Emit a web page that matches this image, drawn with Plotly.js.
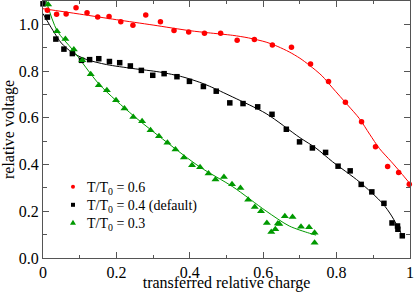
<!DOCTYPE html>
<html>
<head>
<meta charset="utf-8">
<script src="https://cdn.plot.ly/plotly-3.0.1.min.js"></script>
<style>html,body{margin:0;padding:0;background:#fff}#chart{width:415px;height:292px}</style>
</head>
<body>
<div id="chart"></div>
<script>
// Measured points
const redX = [0.012,0.037,0.063,0.090,0.120,0.149,0.180,0.212,0.245,0.280,0.320,0.357,0.397,0.440,0.484,0.529,0.576,0.625,0.677,0.729,0.778,0.824,0.868,0.906,0.939,0.969,0.998];
const redY = [1.060,1.043,1.044,1.071,1.050,1.031,1.034,1.011,0.996,1.040,1.011,0.974,0.967,0.962,0.962,0.932,0.935,0.912,0.902,0.830,0.755,0.667,0.583,0.476,0.392,0.366,0.316];

const blackX = [0.000,0.012,0.035,0.057,0.080,0.105,0.127,0.152,0.181,0.209,0.238,0.268,0.299,0.330,0.365,0.399,0.437,0.472,0.509,0.545,0.585,0.624,0.663,0.699,0.734,0.770,0.804,0.837,0.867,0.896,0.929,0.951,0.966,0.967,0.979];
const blackY = [1.088,1.031,0.937,0.894,0.875,0.846,0.849,0.853,0.841,0.836,0.822,0.803,0.782,0.789,0.776,0.756,0.734,0.714,0.664,0.661,0.647,0.615,0.551,0.497,0.471,0.452,0.393,0.373,0.315,0.283,0.234,0.150,0.137,0.123,0.095];

const greenX = [0.014,0.038,0.061,0.084,0.107,0.130,0.152,0.174,0.199,0.222,0.246,0.270,0.293,0.316,0.339,0.361,0.384,0.406,0.428,0.451,0.470,0.493,0.515,0.538,0.559,0.577,0.594,0.610,0.622,0.633,0.640,0.644,0.659,0.680,0.703,0.725,0.740,0.740];
const greenY = [1.085,0.971,0.937,0.892,0.846,0.786,0.739,0.718,0.675,0.640,0.604,0.585,0.547,0.521,0.493,0.464,0.430,0.397,0.388,0.362,0.336,0.347,0.316,0.300,0.249,0.218,0.200,0.150,0.111,0.123,0.148,0.145,0.179,0.175,0.134,0.132,0.108,0.065];

// Fitted curves
const redFitX = [0.000,0.100,0.200,0.300,0.400,0.450,0.517,0.560,0.608,0.640,0.671,0.700,0.726,0.760,0.789,0.830,0.862,0.890,0.917,0.948,0.975,1.000];
const redFitY = [1.067,1.044,1.020,0.997,0.973,0.964,0.953,0.942,0.924,0.905,0.882,0.855,0.825,0.780,0.728,0.655,0.597,0.530,0.468,0.414,0.365,0.318];

const blackFitX = [0.000,0.027,0.050,0.080,0.118,0.173,0.245,0.318,0.381,0.427,0.454,0.517,0.608,0.700,0.744,0.789,0.862,0.925,0.950,0.971,0.980];
const blackFitY = [1.046,0.974,0.920,0.879,0.850,0.828,0.811,0.796,0.775,0.752,0.735,0.689,0.618,0.515,0.470,0.412,0.326,0.234,0.180,0.120,0.091];

const greenFitX = [0.005,0.038,0.082,0.154,0.245,0.336,0.427,0.517,0.608,0.671,0.726,0.744];
const greenFitY = [1.120,0.974,0.889,0.742,0.611,0.497,0.390,0.305,0.201,0.137,0.106,0.098];

const seriesNames = ["T/T<sub>0</sub> = 0.6","T/T<sub>0</sub> = 0.4 (default)","T/T<sub>0</sub> = 0.3"];
const xTickVals = [0,0.2,0.4,0.6,0.8,1];
const xTickText = ["0","0.2","0.4","0.6","0.8","1"];
const yTickVals = [0,0.2,0.4,0.6,0.8,1.0];
const yTickText = ["0.0","0.2","0.4","0.6","0.8","1.0"];

const RED = "#ff0000", BLACK = "#000000", GREEN = "#009900";
const serif = "Liberation Serif";

const traces = [
  {x: redFitX, y: redFitY, mode: "lines", line: {color: RED, width: 1, shape: "spline", smoothing: 0.8}, hoverinfo: "skip"},
  {x: blackFitX, y: blackFitY, mode: "lines", line: {color: BLACK, width: 1, shape: "spline", smoothing: 0.8}, hoverinfo: "skip"},
  {x: greenFitX, y: greenFitY, mode: "lines", line: {color: GREEN, width: 1, shape: "spline", smoothing: 0.8}, hoverinfo: "skip"},
  {x: redX, y: redY, mode: "markers", name: seriesNames[0], marker: {symbol: "circle", size: 5.5, color: RED}, cliponaxis: false},
  {x: blackX, y: blackY, mode: "markers", name: seriesNames[1], marker: {symbol: "square", size: 5.5, color: BLACK}, cliponaxis: false},
  {x: greenX, y: greenY, mode: "markers", name: seriesNames[2], marker: {symbol: "triangle-up", size: 7, color: GREEN}, cliponaxis: false}
];

// Manual legend (paper coordinates, pixel-sized symbols)
const legX = 0.0817, legTextX = 0.115;
const legRowsY = [0.277, 0.207, 0.137];
const shapes = [
  {type: "circle", xref: "paper", yref: "paper", xsizemode: "pixel", ysizemode: "pixel",
   xanchor: legX, yanchor: legRowsY[0], x0: -2, x1: 2, y0: -2, y1: 2, fillcolor: RED, line: {width: 0}},
  {type: "rect", xref: "paper", yref: "paper", xsizemode: "pixel", ysizemode: "pixel",
   xanchor: legX, yanchor: legRowsY[1], x0: -2, x1: 2, y0: -2, y1: 2, fillcolor: BLACK, line: {width: 0}},
  {type: "path", xref: "paper", yref: "paper", xsizemode: "pixel", ysizemode: "pixel",
   xanchor: legX, yanchor: legRowsY[2], path: "M-3,-2 L3,-2 L0,3 Z", fillcolor: GREEN, line: {width: 0}}
];
const annotations = seriesNames.map((t, i) => ({
  text: t, xref: "paper", yref: "paper", x: legTextX, y: legRowsY[i], xanchor: "left", yanchor: "middle",
  yshift: -2, showarrow: false, font: {family: serif, size: 14, color: "#000"}
}));

const layout = {
  width: 415, height: 292,
  margin: {l: 43, r: 5, t: 1, b: 34},
  paper_bgcolor: "#fff", plot_bgcolor: "#fff",
  font: {family: serif, color: "#000", size: 16},
  showlegend: false,
  shapes: shapes,
  annotations: annotations,
  xaxis: {
    range: [0, 1], showgrid: false, zeroline: false, automargin: false,
    showline: true, linecolor: "#555", linewidth: 1, mirror: "ticks",
    ticks: "inside", ticklen: 6, tickwidth: 1, tickcolor: "#555",
    tickvals: xTickVals, ticktext: xTickText,
    tickfont: {family: serif, size: 16, color: "#000"},
    minor: {dtick: 0.1, tick0: 0, ticks: "inside", ticklen: 3, tickcolor: "#555", showgrid: false},
    title: {text: "transferred relative charge", font: {family: serif, size: 16, color: "#000"}, standoff: 4}
  },
  yaxis: {
    range: [0, 1.1], showgrid: false, zeroline: false, automargin: false,
    showline: true, linecolor: "#555", linewidth: 1, mirror: "ticks",
    ticks: "inside", ticklen: 6, tickwidth: 1, tickcolor: "#555",
    tickvals: yTickVals, ticktext: yTickText,
    tickfont: {family: serif, size: 16, color: "#000"},
    minor: {dtick: 0.1, tick0: 0, ticks: "inside", ticklen: 4, tickcolor: "#555", showgrid: false},
    title: {text: "relative voltage", font: {family: serif, size: 16, color: "#000"}, standoff: 2}
  }
};

Plotly.newPlot("chart", traces, layout, {displayModeBar: false, staticPlot: true});
</script>
</body>
</html>
